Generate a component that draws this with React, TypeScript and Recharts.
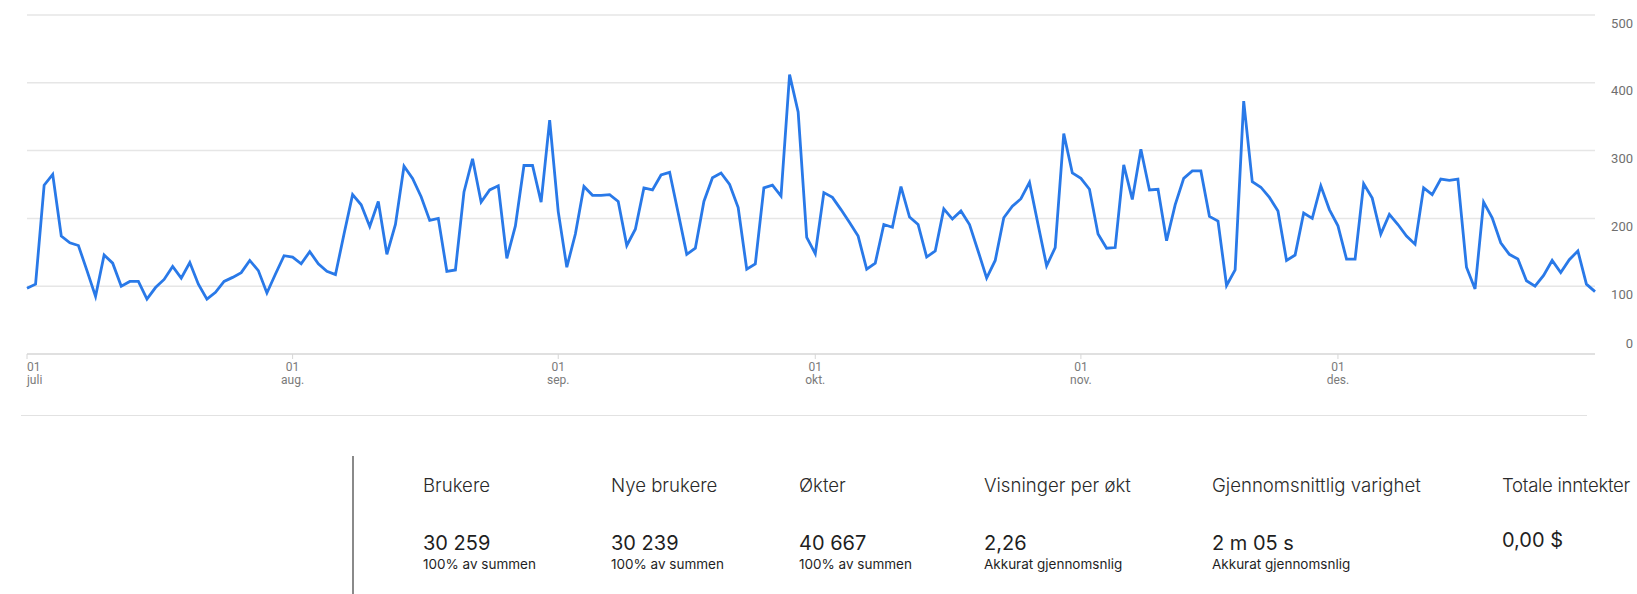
import React from 'react';
import { LineChart, Line, XAxis, YAxis, CartesianGrid } from 'recharts';

// ---- data ----
const monthNames = ['juli', 'aug.', 'sep.', 'okt.', 'nov.', 'des.'];
const monthLengths = [31, 31, 30, 31, 30, 31];
const yTicks = [0, 100, 200, 300, 400, 500];

const users = [
  97, 103, 249, 265, 174, 164, 160, 123, 85, 146, 134, 100, 107, 107, 81, 98, 110, 129, 112, 135, 103, 81, 91, 107, 113, 120, 138, 123, 90, 118, 145,
  143, 133, 151, 133, 122, 117, 177, 235, 220, 188, 225, 147, 191, 277, 259, 232, 197, 200, 122, 124, 239, 288, 224, 242, 248, 141, 189, 278, 278, 224, 345,
  210, 128, 177, 247, 234, 234, 235, 225, 160, 184, 245, 242, 264, 268, 208, 147, 156, 225, 260, 267, 250, 216, 125, 133, 245, 249, 233, 412, 357, 172,
  148, 238, 231, 213, 194, 174, 125, 134, 191, 187, 247, 202, 191, 143, 152, 214, 199, 211, 191, 152, 112, 138, 201, 218, 229, 253, 191, 130, 157, 325, 267,
  259, 243, 177, 156, 157, 279, 228, 302, 242, 243, 167, 220, 259, 270, 270, 203, 196, 101, 124, 373, 254, 246, 231, 211, 138, 146, 208, 200, 248, 213,
  189, 140, 140, 251, 230, 177, 206, 191, 174, 162, 245, 235, 258, 256, 258, 128, 96, 224, 201, 164, 147, 140, 108, 100, 116, 138, 120, 139, 152, 103, 92,
];

const kpiTitles = ['Brukere', 'Nye brukere', 'Økter', 'Visninger per økt', 'Gjennomsnittlig varighet', 'Totale inntekter'];
const kpiValues = ['30 259', '30 239', '40 667', '2,26', '2 m 05 s', '0,00 $'];
const kpiNotes = ['100% av summen', '100% av summen', '100% av summen', 'Akkurat gjennomsnlig', 'Akkurat gjennomsnlig', ''];

// ---- derived ----
const monthStarts: number[] = [];
{
  let acc = 0;
  monthLengths.forEach((l) => {
    monthStarts.push(acc);
    acc += l;
  });
}
const data = users.map((v, i) => ({ idx: i, users: v }));

// ---- layout ----
const kpiX = [423, 611, 799, 984, 1212, 1502];
const FONT = 'Inter, "Liberation Sans", Arial, sans-serif';

const XTick = (props: any) => {
  const { x, y, payload } = props;
  const mi = monthStarts.indexOf(payload.value);
  const first = mi === 0;
  return (
    <g>
      <line x1={x} x2={x} y1={y} y2={y + 5} stroke="#d6d6d6" strokeWidth={1} />
      <text x={x} y={y + 17} textAnchor={first ? 'start' : 'middle'} fontSize={12} fill="#7a7a7a" fontFamily="Roboto, Arial, sans-serif">
        01
      </text>
      <text x={x} y={y + 30} textAnchor={first ? 'start' : 'middle'} fontSize={12} fill="#7a7a7a" fontFamily="Roboto, Arial, sans-serif">
        {monthNames[mi]}
      </text>
    </g>
  );
};

const YTick = (props: any) => {
  const { x, y, payload } = props;
  const dy = payload.value === 0 ? -6.5 : 12.5;
  return (
    <text x={x + 38} y={y + dy} textAnchor="end" fontSize={13} fill="#6f6f6f" fontFamily="Roboto, Arial, sans-serif">
      {payload.value}
    </text>
  );
};

export default function App() {
  return (
    <div style={{ position: 'absolute', left: 0, top: 0, width: 1637, height: 594, background: '#fff', overflow: 'hidden' }}>
      <LineChart width={1637} height={400} data={data} margin={{ top: 15, right: 0, left: 27, bottom: 6 }}>
        <CartesianGrid horizontal vertical={false} stroke="#e6e6e6" strokeWidth={1.5} />
        <XAxis
          dataKey="idx"
          type="number"
          domain={[0, users.length - 1]}
          ticks={monthStarts}
          interval={0}
          height={40}
          tickSize={0}
          tickMargin={0}
          tickLine={false}
          axisLine={{ stroke: '#dcdcdc', strokeWidth: 1.5 }}
          tick={<XTick />}
        />
        <YAxis
          orientation="right"
          width={42}
          domain={[0, 500]}
          ticks={yTicks}
          axisLine={false}
          tickLine={false}
          tickSize={0}
          tickMargin={0}
          tick={<YTick />}
        />
        <Line type="linear" dataKey="users" stroke="#2979e8" strokeWidth={2.8} dot={false} isAnimationActive={false} />
      </LineChart>

      <div style={{ position: 'absolute', left: 21, top: 415, width: 1566, height: 1, background: '#e2e2e2' }} />
      <div style={{ position: 'absolute', left: 352, top: 456, width: 1.5, height: 138, background: '#8a8a8a' }} />

      {kpiTitles.map((t, i) => (
        <div
          key={'t' + i}
          style={{ position: 'absolute', left: kpiX[i], top: 474, fontFamily: FONT, fontWeight: 300, fontSize: 18.6, lineHeight: '22px', color: '#2a2a2a', whiteSpace: 'nowrap', letterSpacing: i === 5 ? -0.3 : 0 }}
        >
          {t}
        </div>
      ))}
      {kpiValues.map((t, i) => (
        <div
          key={'v' + i}
          style={{ position: 'absolute', left: kpiX[i], top: i === 5 ? 529 : 532, fontFamily: FONT, fontWeight: 400, fontSize: 20, lineHeight: '22px', color: '#1f1f1f', whiteSpace: 'nowrap' }}
        >
          {t}
        </div>
      ))}
      {kpiNotes.map((t, i) => (
        <div
          key={'n' + i}
          style={{ position: 'absolute', left: kpiX[i], top: 556, fontFamily: FONT, fontWeight: 400, fontSize: 13.5, lineHeight: '16px', color: '#1f1f1f', whiteSpace: 'nowrap' }}
        >
          {t}
        </div>
      ))}
    </div>
  );
}
